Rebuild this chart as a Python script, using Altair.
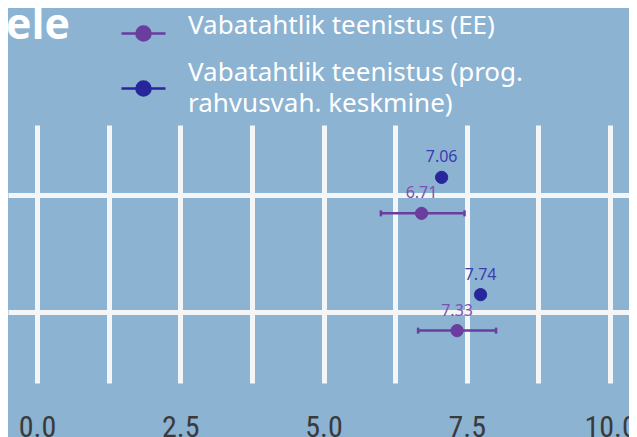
import altair as alt
import pandas as pd

# ---- data ----
categories = ["Küsimus 1", "Küsimus 2"]
series = [
    "Vabatahtlik teenistus (EE)",
    "Vabatahtlik teenistus (prog. rahvusvah. keskmine)",
]
ee_mean = [6.71, 7.33]
ee_low = [6.00, 6.65]
ee_high = [7.46, 8.01]
intl_mean = [7.06, 7.74]
x_ticks = [0, 1.25, 2.5, 3.75, 5, 6.25, 7.5, 8.75, 10]
heading = ["ele"]

# ---- styles ----
point_colors = ["#6a3d9e", "#27279b"]
text_colors = ["#7b52ae", "#3d3caf"]
bg = "#8cb3d2"
grid_col = "#f4f5f6"

rows = []
for i, c in enumerate(categories):
    rows.append({"cat": c, "series": series[0], "mean": ee_mean[i],
                 "low": ee_low[i], "high": ee_high[i], "label": f"{ee_mean[i]:.2f}"})
    rows.append({"cat": c, "series": series[1], "mean": intl_mean[i],
                 "low": None, "high": None, "label": f"{intl_mean[i]:.2f}"})
df = pd.DataFrame(rows)
err = df[df["series"] == series[0]].copy()

x_scale = alt.Scale(domain=[-0.506, 10.33], nice=False, zero=False)
x_axis = alt.Axis(
    values=x_ticks,
    labelExpr="datum.value % 2.5 == 0 ? format(datum.value, '.1f') : ''",
    grid=True, gridColor=grid_col, gridWidth=5, ticks=False, domain=False,
    labelFont="Liberation Sans Narrow, Roboto Condensed, Roboto",
    labelFontSize=30, labelColor="#3a3a3a", labelPadding=29,
    labelFlush=False, labelOverlap=False, title=None,
)
y_enc = alt.Y(
    "cat:N", sort=categories,
    scale=alt.Scale(paddingInner=0, paddingOuter=0.1),
    axis=alt.Axis(title=None, labels=False, ticks=False, domain=False,
                  grid=True, gridColor=grid_col, gridWidth=5, bandPosition=0.5),
)
yoff = alt.YOffset("series:N", sort=[series[1], series[0]],
                   scale=alt.Scale(paddingInner=0, paddingOuter=0.63))

legend_symbol = ("M-1,0L1,0M-0.32,0A0.32,0.32,0,1,0,0.32,0"
                 "A0.32,0.32,0,1,0,-0.32,0Z")
common_leg = dict(
    title=None, orient="none", legendX=112,
    symbolType=legend_symbol, symbolSize=1936, symbolStrokeWidth=2.5,
    symbolOpacity=1,
    labelFont="Noto Sans", labelFontSize=26, labelColor="white",
    labelLimit=600, labelOffset=21, padding=0,
    labelExpr="indexof(datum.label, 'prog. ') > 0 ? split(replace(datum.label, 'prog. ', 'prog.|'), '|') : datum.label",
)
leg_ee = alt.Legend(values=[series[0]], legendY=-115, labelBaseline="alphabetic",
                    symbolStrokeColor=point_colors[0], **common_leg)
leg_intl = alt.Legend(values=[series[1]], legendY=-60, labelBaseline="line-bottom",
                      symbolFillColor=point_colors[1], **common_leg)

base = alt.Chart(df)

rule = alt.Chart(err).mark_rule(color=point_colors[0], strokeWidth=2.5).encode(
    x=alt.X("low:Q", scale=x_scale, axis=x_axis),
    x2="high:Q",
    y=y_enc,
    yOffset=yoff,
)
caps = alt.Chart(err).transform_fold(["low", "high"], as_=["end", "v"]).mark_point(
    shape="M0,-1L0,1", size=36, strokeWidth=2.5, color=point_colors[0], opacity=1
).encode(
    x=alt.X("v:Q", scale=x_scale, axis=x_axis),
    y=y_enc,
    yOffset=yoff,
)
points = base.mark_point(filled=True, size=150, opacity=1, strokeWidth=1).encode(
    x=alt.X("mean:Q", scale=x_scale, axis=x_axis),
    y=y_enc,
    yOffset=yoff,
    fill=alt.Fill("series:N", scale=alt.Scale(domain=series, range=point_colors),
                  legend=leg_ee),
    stroke=alt.Stroke("series:N",
                      scale=alt.Scale(domain=series[::-1], range=point_colors[::-1]),
                      legend=leg_intl),
)
labels = base.mark_text(dy=-20, fontSize=16, font="Noto Sans").encode(
    x=alt.X("mean:Q", scale=x_scale, axis=x_axis),
    y=y_enc,
    yOffset=yoff,
    text="label:N",
    color=alt.Color("series:N", scale=alt.Scale(domain=series, range=text_colors), legend=None),
)
title_txt = alt.Chart(pd.DataFrame({"t": heading})).mark_text(
    align="left", baseline="alphabetic", font="Open Sans", fontSize=43,
    fontWeight="bold", color="white",
).encode(text="t:N", x=alt.value(-2), y=alt.value(-86))

chart = alt.layer(rule, caps, points, labels, title_txt).properties(
    width=621, height=258,
    padding={"left": 0, "top": 117, "right": 0, "bottom": 54},
    autosize=alt.AutoSizeParams(type="none"),
    background=bg,
).configure(
    style={"guide-label": {"lineHeight": 31}}
).configure_view(stroke=None, fill=bg)

chart.save("out.html", embed_options={"renderer": "svg", "actions": False})
